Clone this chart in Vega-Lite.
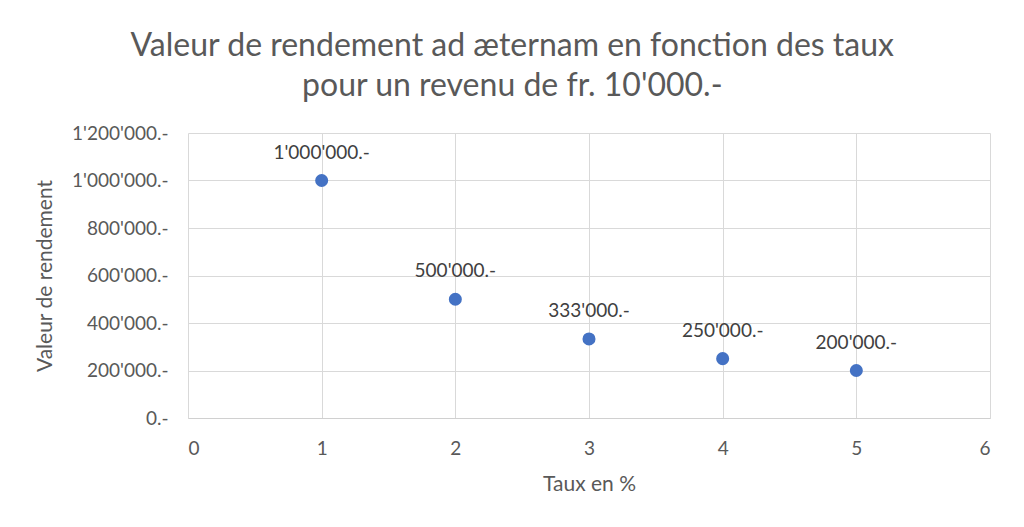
{
  "$schema": "https://vega.github.io/schema/vega-lite/v6.json",
  "width": 802,
  "height": 285,
  "autosize": "none",
  "padding": {"left": 188, "top": 133, "right": 34, "bottom": 109},
  "background": "white",
  "config": {
    "font": "Lato",
    "view": {"stroke": null},
    "locale": {"number": {"decimal": ".", "thousands": "'", "grouping": [3], "currency": ["", ".-"]}}
  },
  "title": {
    "text": ["Valeur de rendement ad æternam en fonction des taux", "pour un revenu de fr. 10'000.-"],
    "fontSize": 32,
    "fontWeight": "normal",
    "color": "#595959",
    "anchor": "middle",
    "frame": "bounds",
    "lineHeight": 40,
    "offset": 21
  },
  "data": {
    "values": [
      {"taux": 1, "valeur": 1000000},
      {"taux": 2, "valeur": 500000},
      {"taux": 3, "valeur": 333000},
      {"taux": 4, "valeur": 250000},
      {"taux": 5, "valeur": 200000}
    ]
  },
  "encoding": {
    "x": {
      "field": "taux", "type": "quantitative",
      "scale": {"domain": [0, 6], "nice": false},
      "axis": {
        "title": "Taux en %", "values": [0, 1, 2, 3, 4, 5, 6], "format": "d",
        "grid": true, "gridColor": "#d9d9d9", "ticks": false,
        "domainColor": "#d0d0d0", "labelFontSize": 19, "labelColor": "#595959",
        "labelPadding": 21, "titleFontSize": 21, "titleFontWeight": "normal",
        "titleColor": "#595959", "titlePadding": 15
      }
    },
    "y": {
      "field": "valeur", "type": "quantitative",
      "scale": {"domain": [0, 1200000], "nice": false},
      "axis": {
        "title": "Valeur de rendement", "values": [0, 200000, 400000, 600000, 800000, 1000000, 1200000],
        "format": "$,.0f", "grid": true, "gridColor": "#d9d9d9", "ticks": false, "domain": false,
        "labelFontSize": 19, "labelColor": "#595959", "labelPadding": 20,
        "titleFontSize": 21, "titleFontWeight": "normal", "titleColor": "#595959", "titlePadding": 16
      }
    }
  },
  "layer": [
    {"mark": {"type": "point", "filled": true, "size": 170, "color": "#4472c4", "opacity": 1}},
    {
      "mark": {"type": "text", "dy": -28, "fontSize": 19, "color": "#404040"},
      "encoding": {"text": {"field": "valeur", "type": "quantitative", "format": "$,.0f"}}
    }
  ]
}
